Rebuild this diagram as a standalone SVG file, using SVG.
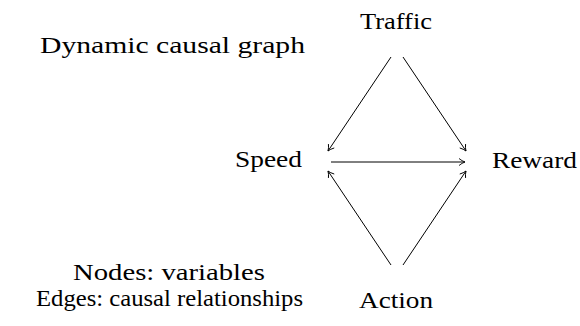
<svg xmlns="http://www.w3.org/2000/svg" width="580" height="326" viewBox="0 0 580 326">
<style>
text{font-family:"Liberation Serif","DejaVu Serif",serif;font-size:24px;fill:#000;text-anchor:middle}
.e{stroke:#000;stroke-width:1;fill:none;marker-end:url(#a)}
</style>
<defs>
<marker id="a" markerWidth="10" markerHeight="10" refX="8" refY="5" orient="auto" markerUnits="userSpaceOnUse">
<path d="M2,1.5 Q5,4 8,5 Q5,6 2,8.5" fill="none" stroke="#000" stroke-width="0.9"/>
</marker>
</defs>
<rect width="580" height="326" fill="#fff"/>
<text x="172.5" y="53" textLength="265" lengthAdjust="spacingAndGlyphs">Dynamic causal graph</text>
<text x="169" y="280" textLength="192" lengthAdjust="spacingAndGlyphs">Nodes: variables</text>
<text x="169.5" y="306" textLength="267" lengthAdjust="spacingAndGlyphs">Edges: causal relationships</text>
<g id="traffic"><text x="396" y="29" textLength="72" lengthAdjust="spacingAndGlyphs">Traffic</text></g>
<g id="speed"><text x="268.5" y="167" textLength="67" lengthAdjust="spacingAndGlyphs">Speed</text></g>
<g id="reward"><text x="534.5" y="168" textLength="85" lengthAdjust="spacingAndGlyphs">Reward</text></g>
<g id="action"><text x="396" y="308" textLength="74" lengthAdjust="spacingAndGlyphs">Action</text></g>
<g id="edges">
<line class="e" x1="391" y1="57" x2="328" y2="151"/>
<line class="e" x1="403" y1="57" x2="466" y2="151"/>
<line class="e" x1="331" y1="162" x2="465" y2="162"/>
<line class="e" x1="391" y1="265" x2="328" y2="171"/>
<line class="e" x1="403" y1="265" x2="466" y2="171"/>
</g>
</svg>
